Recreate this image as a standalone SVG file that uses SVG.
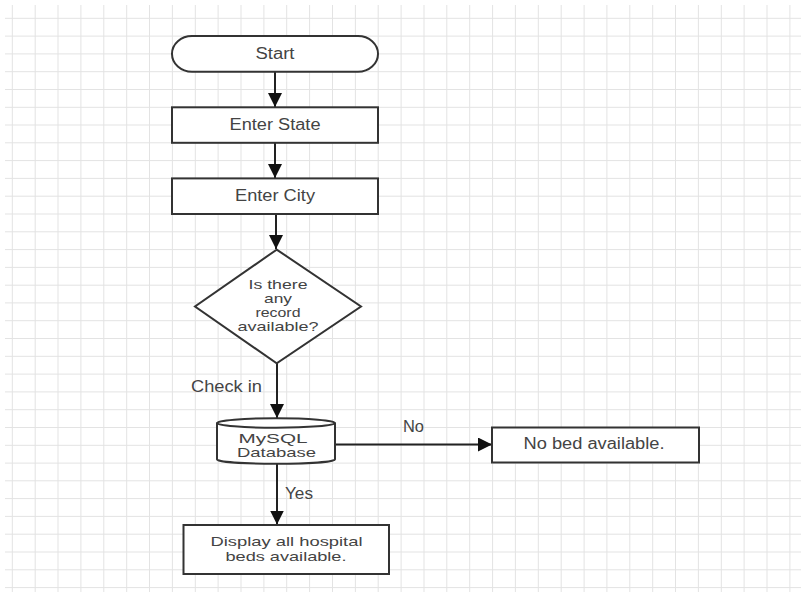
<svg xmlns="http://www.w3.org/2000/svg" width="801" height="593" viewBox="0 0 801 593">
<style>
.grid{stroke:#e3e3e3;stroke-width:1;fill:none}
.shape{fill:#fff;stroke:#333;stroke-width:2}
.edge{stroke:#222;stroke-width:2;fill:none}
.t{font-family:"Liberation Sans",Arial,sans-serif;font-size:16px;fill:#444;text-anchor:middle}
.m{font-family:"Liberation Sans",Arial,sans-serif;font-size:13px;fill:#444;text-anchor:middle}
.l{font-family:"Liberation Sans",Arial,sans-serif;font-size:16px;fill:#444}
</style>
<defs>
<marker id="arr" markerUnits="userSpaceOnUse" markerWidth="14" markerHeight="14" viewBox="0 0 12 12" refX="12" refY="6" orient="auto">
<path d="M0,0 L12,6 L0,12 Z" fill="#111"/>
</marker>
</defs>
<rect x="0" y="0" width="801" height="593" fill="#fff"/>
<path class="grid" d="M12.3,5V592M35.2,5V592M58,5V592M80.9,5V592M103.8,5V592M126.7,5V592M149.5,5V592M172.4,5V592M195.3,5V592M218.1,5V592M241,5V592M263.9,5V592M286.7,5V592M309.6,5V592M332.5,5V592M355.4,5V592M378.2,5V592M401.1,5V592M424,5V592M446.8,5V592M469.7,5V592M492.6,5V592M515.4,5V592M538.3,5V592M561.2,5V592M584.1,5V592M606.9,5V592M629.8,5V592M652.7,5V592M675.5,5V592M698.4,5V592M721.3,5V592M744.1,5V592M767,5V592M789.9,5V592
M5,18.3H801M5,36.1H801M5,53.9H801M5,71.7H801M5,89.5H801M5,107.3H801M5,125H801M5,142.8H801M5,160.6H801M5,178.4H801M5,196.2H801M5,214H801M5,231.8H801M5,249.6H801M5,267.4H801M5,285.2H801M5,302.9H801M5,320.7H801M5,338.5H801M5,356.3H801M5,374.1H801M5,391.9H801M5,409.7H801M5,427.5H801M5,445.3H801M5,463.1H801M5,480.8H801M5,498.6H801M5,516.4H801M5,534.2H801M5,552H801M5,569.8H801M5,587.6H801"/>

<g id="connectors">
<line class="edge" x1="275" y1="72" x2="275" y2="107" marker-end="url(#arr)"/>
<line class="edge" x1="275" y1="143" x2="275" y2="178" marker-end="url(#arr)"/>
<line class="edge" x1="276" y1="214" x2="276" y2="249" marker-end="url(#arr)"/>
<line class="edge" x1="277" y1="363" x2="277" y2="418" marker-end="url(#arr)"/>
<line class="edge" x1="335" y1="444.5" x2="492" y2="444.5" marker-end="url(#arr)"/>
<line class="edge" x1="277" y1="464" x2="277" y2="524.5" marker-end="url(#arr)"/>
<text class="l" x="191" y="392" textLength="71" lengthAdjust="spacingAndGlyphs">Check in</text>
<text class="l" x="403" y="432" textLength="21" lengthAdjust="spacingAndGlyphs">No</text>
<text class="l" x="285" y="499" textLength="28" lengthAdjust="spacingAndGlyphs">Yes</text>
</g>

<g id="start">
<rect class="shape" x="172" y="36" width="206" height="35.7" rx="20" ry="17.8"/>
<text class="t" x="275" y="58.5" textLength="39" lengthAdjust="spacingAndGlyphs">Start</text>
</g>

<g id="enter-state">
<rect class="shape" x="172" y="107.3" width="206" height="35.5"/>
<text class="t" x="275" y="129.5" textLength="91" lengthAdjust="spacingAndGlyphs">Enter State</text>
</g>

<g id="enter-city">
<rect class="shape" x="172" y="178.4" width="206" height="35.6"/>
<text class="t" x="275" y="200.5" textLength="80" lengthAdjust="spacingAndGlyphs">Enter City</text>
</g>

<g id="decision">
<polygon class="shape" points="276.7,249.6 361,306.5 276.7,363.3 195,306.5"/>
<text class="m" x="278" y="288.5" textLength="59" lengthAdjust="spacingAndGlyphs">Is there</text>
<text class="m" x="278" y="302.5" textLength="28" lengthAdjust="spacingAndGlyphs">any</text>
<text class="m" x="278" y="316.7" textLength="45" lengthAdjust="spacingAndGlyphs">record</text>
<text class="m" x="278" y="330.7" textLength="81" lengthAdjust="spacingAndGlyphs">available?</text>
</g>

<g id="database">
<path class="shape" d="M217,423 A59,4.7 0 0 1 335,423 V459.5 A59,4.3 0 0 1 217,459.5 Z"/>
<path class="shape" d="M217,423 A59,4.7 0 0 0 335,423" fill="none"/>
<text class="m" x="273" y="443.3" textLength="69" lengthAdjust="spacingAndGlyphs">MySQL</text>
<text class="m" x="276.5" y="457.3" textLength="79" lengthAdjust="spacingAndGlyphs">Database</text>
</g>

<g id="no-bed">
<rect class="shape" x="492" y="427.5" width="207" height="35"/>
<text class="t" x="594" y="449.3" textLength="141" lengthAdjust="spacingAndGlyphs">No bed available.</text>
</g>

<g id="display-beds">
<rect class="shape" x="183.5" y="525" width="205.5" height="49"/>
<text class="m" x="286.5" y="545.7" textLength="152" lengthAdjust="spacingAndGlyphs">Display all hospital</text>
<text class="m" x="286" y="561" textLength="121" lengthAdjust="spacingAndGlyphs">beds available.</text>
</g>
</svg>
